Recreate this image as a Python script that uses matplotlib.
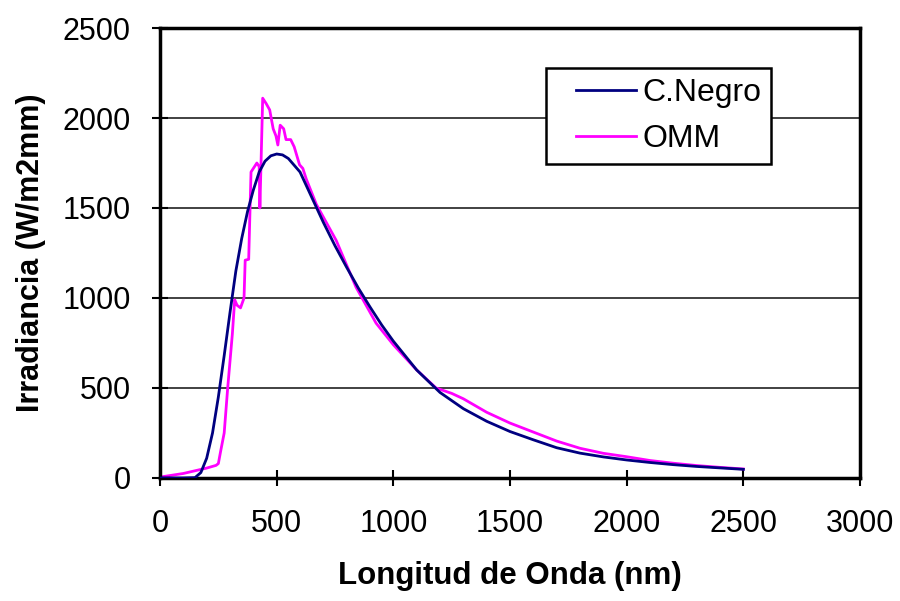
import matplotlib
matplotlib.use("Agg")
import matplotlib.pyplot as plt
from matplotlib.legend_handler import HandlerLine2D
from matplotlib.lines import Line2D

plt.rcParams['font.family'] = ['Liberation Sans', 'DejaVu Sans']

# C.Negro (black body) curve
negro_nm = [0, 100, 150, 175, 200, 225, 250, 275, 300, 325, 350, 375, 400, 425, 450,
            475, 500, 525, 550, 600, 650, 700, 750, 800, 850, 900, 950, 1000, 1100,
            1200, 1300, 1400, 1500, 1600, 1700, 1800, 1900, 2000, 2100, 2200, 2300,
            2400, 2500]
negro_irr = [0, 0, 2, 30, 110, 250, 450, 680, 920, 1150, 1330, 1480, 1600, 1700, 1760,
             1790, 1800, 1795, 1775, 1700, 1560, 1420, 1290, 1170, 1055, 950, 850, 760, 600,
             475, 385, 315, 258, 212, 168, 138, 117, 100, 86, 74, 64, 56, 48]

omm_nm = [0, 50, 100, 150, 200, 240, 250, 260, 275, 290, 310, 320, 330, 345, 360, 365,
          380, 390, 400, 415, 425, 428, 440, 455, 470, 485, 497, 505, 515, 530, 540,
          560, 575, 598, 612, 627, 670, 755, 840, 926, 1000, 1100, 1183, 1250, 1300,
          1400, 1500, 1600, 1700, 1800, 1900, 2000, 2100, 2200, 2300, 2400, 2500]
omm_irr = [5, 15, 25, 40, 55, 70, 80, 150, 250, 500, 800, 990, 960, 945, 1000, 1210,
           1215, 1700, 1720, 1750, 1730, 1500, 2110, 2080, 2045, 1940, 1900, 1850, 1960, 1940, 1880,
           1880, 1840, 1740, 1720, 1660, 1520, 1320, 1060, 860, 740, 600, 500, 470, 440,
           365, 305, 255, 205, 165, 137, 118, 97, 82, 69, 59, 50]


class RightLine(HandlerLine2D):
    # draw the legend line only in the right part of the handle box
    def create_artists(self, legend, orig_handle, xdescent, ydescent, width, height, fontsize, trans):
        arts = super().create_artists(legend, orig_handle, xdescent, ydescent, width, height, fontsize, trans)
        for a in arts:
            if isinstance(a, Line2D) and a.get_linestyle() not in ('None', ''):
                y = a.get_ydata()
                a.set_data([-xdescent + width * 0.25, -xdescent + width], [y[0], y[0]])
        return arts


fig = plt.figure(figsize=(9, 6.01), dpi=100)
ax = fig.add_axes([0.1778, 0.2047, 0.7778, 0.7487])

ax.plot(negro_nm, negro_irr, color='#000080', lw=2, label='C.Negro', zorder=3)
ax.plot(omm_nm, omm_irr, color='#FF00FF', lw=2, label='OMM', zorder=2)

ax.set_xlim(0, 3000)
ax.set_ylim(0, 2500)
ax.set_xticks(range(0, 3001, 500))
ax.set_yticks(range(0, 2501, 500))
ax.yaxis.grid(True, color='#333333', lw=1.3)
ax.set_axisbelow(True)

for s in ax.spines.values():
    s.set_linewidth(2.5)
    s.set_color('black')
ax.tick_params(direction='inout', length=12, width=1.5, labelsize=22)
ax.tick_params(axis='y', pad=15)
ax.tick_params(axis='x', pad=16)

ax.set_xlabel('Longitud de Onda (nm)', fontsize=22.5, fontweight='bold', labelpad=16)
ax.set_ylabel('Irradiancia (W/m2mm)', fontsize=22, fontweight='bold', labelpad=12)

leg = ax.legend(loc='upper left', bbox_to_anchor=(0.551, 0.911), fontsize=23,
                frameon=True, fancybox=False, framealpha=1, edgecolor='black',
                handlelength=2.5, handletextpad=0.2, borderpad=0.32, labelspacing=0.5,
                borderaxespad=0, handler_map={Line2D: RightLine()})
leg.get_frame().set_linewidth(1.8)

fig.savefig('out.png', dpi=100)
